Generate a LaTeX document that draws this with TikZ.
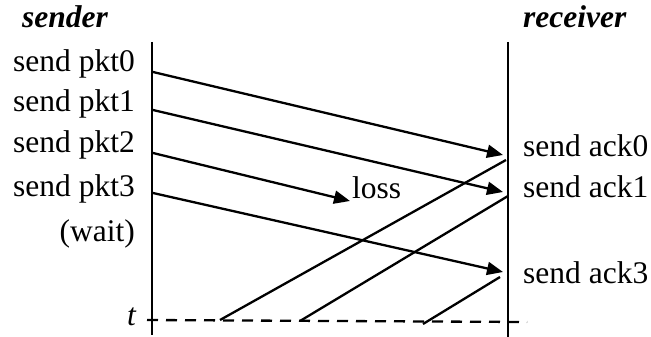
\documentclass[tikz,border=0pt]{standalone}
\usepackage{fontspec}
\setmainfont{Liberation Serif}
\usetikzlibrary{arrows.meta}
\begin{document}
\begin{tikzpicture}[x=1pt,y=-1pt,
  lbl/.style={inner sep=0pt,font=\fontsize{31.5}{36}\selectfont},
  hdr/.style={inner sep=0pt,font=\fontsize{31.5}{36}\selectfont\bfseries\itshape},
  life/.style={line width=2.3pt},
  msg/.style={line width=2.3pt,-{Triangle[length=16pt,width=13pt]}},
  ack/.style={line width=2.3pt},
  tline/.style={line width=2.3pt,dash pattern=on 11pt off 8pt}]
\useasboundingbox (0,0) rectangle (651,337);
% headers
\node[hdr,anchor=base west] (snd) at (22,28) {sender};
\node[hdr,anchor=base west] (rcv) at (523,28) {receiver};
% lifelines
\coordinate (s0) at (152,42); \coordinate (s1) at (152,335);
\coordinate (r0) at (508,42); \coordinate (r1) at (508,337);
\draw[life] (s0) -- (s1);
\draw[life] (r0) -- (r1);
% left labels
\node[lbl,anchor=base east] (p0) at (135,72) {send pkt0};
\node[lbl,anchor=base east] (p1) at (135,111) {send pkt1};
\node[lbl,anchor=base east] (p2) at (135,152) {send pkt2};
\node[lbl,anchor=base east] (p3) at (135,196) {send pkt3};
\node[lbl,anchor=base east] (w) at (135,241) {(wait)};
\node[lbl,anchor=base east,font=\fontsize{31.5}{36}\selectfont\itshape] (t) at (136,325) {t};
% right labels
\node[lbl,anchor=base west] (a0) at (523,156) {send ack0};
\node[lbl,anchor=base west] (a1) at (523,197) {send ack1};
\node[lbl,anchor=base west] (a3) at (523,283) {send ack3};
\node[lbl,anchor=base west] (ls) at (352,198) {loss};
% packet arrows
\coordinate (m0a) at (153,72);  \coordinate (m0b) at (503,155);
\coordinate (m1a) at (153,110); \coordinate (m1b) at (503,192);
\coordinate (m2a) at (153,153); \coordinate (m2b) at (350,201);
\coordinate (m3a) at (153,193); \coordinate (m3b) at (503,272);
\draw[msg] (m0a) -- (m0b);
\draw[msg] (m1a) -- (m1b);
\draw[msg] (m2a) -- (m2b);
\draw[msg] (m3a) -- (m3b);
% acks
\coordinate (k0a) at (506,160); \coordinate (k0b) at (220,320);
\coordinate (k1a) at (508,196); \coordinate (k1b) at (300,321);
\coordinate (k3a) at (500,277); \coordinate (k3b) at (423,324);
\draw[ack] (k0a) -- (k0b);
\draw[ack] (k1a) -- (k1b);
\draw[ack] (k3a) -- (k3b);
% time line
\coordinate (d0) at (147,320); \coordinate (d1) at (527,322);
\draw[tline] (d0) -- (d1);
\end{tikzpicture}
\end{document}
